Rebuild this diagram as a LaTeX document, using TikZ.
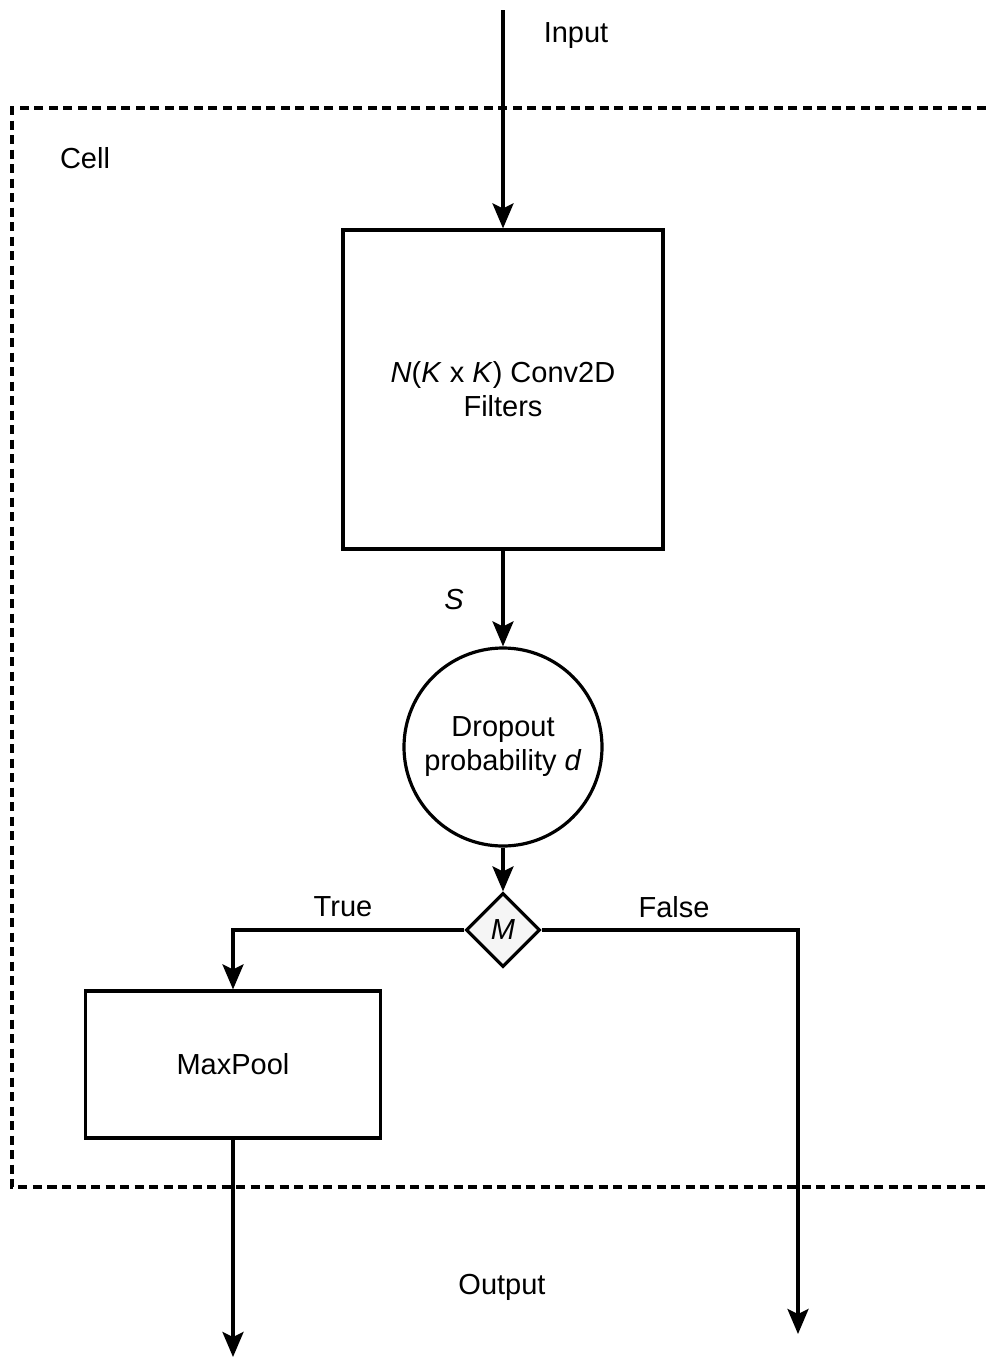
\documentclass[tikz,border=0pt]{standalone}
\usepackage{fontspec}
\setmainfont{Liberation Sans}
\usetikzlibrary{arrows.meta,shapes.geometric}
\begin{document}
\begin{tikzpicture}[x=1pt,y=-1pt,
  every node/.style={font=\fontsize{29}{34}\selectfont},
  conn/.style={line width=3.2pt},
  arr/.style={conn, -{Stealth[length=25pt,width=21pt,inset=5pt]}},
  boxnode/.style={draw, line width=3.2pt, inner sep=0pt, align=center},
  lbl/.style={inner sep=0pt, align=center}
]
\useasboundingbox (0,0) rectangle (987,1357);
% cell border
\draw[conn, dash pattern=on 9pt off 5.5pt] (1000,108) -- (12,108) -- (12,1187) -- (1000,1187);
\node[lbl] (celllbl) at (85,158) {Cell};
% nodes
\coordinate (inp) at (503,10);
\node[lbl] (inlbl) at (576,36) {Input};
\node[boxnode, minimum width=320pt, minimum height=319pt] (conv) at (503,389.5) {\textit{N}(\textit{K} x \textit{K}) Conv2D\\Filters};
\node[boxnode, circle, minimum size=198pt] (drop) at (503,747) {Dropout\\probability \textit{d}};
\node[boxnode, diamond, minimum width=74pt, minimum height=74pt, fill=black!4] (mask) at (503,930) {\textit{M}};
\node[boxnode, minimum width=295pt, minimum height=147pt] (pool) at (233,1064.5) {MaxPool};
\coordinate (outa) at (233,1357);
\coordinate (outb) at (798,1334);
\node[lbl] (slbl) at (454,600) {\textit{S}};
\node[lbl] (truelbl) at (343,907) {True};
\node[lbl] (falselbl) at (674,907) {False};
\node[lbl] (outlbl) at (502,1287) {Output};
% connectors
\draw[arr] (inp) -- (conv.north);
\draw[arr] (conv.south) -- (drop.north);
\draw[arr] (drop.south) -- (mask.north);
\draw[arr] (mask.west) -| (pool.north);
\draw[arr] (mask.east) -| (outb);
\draw[arr] (pool.south) -- (outa);
\end{tikzpicture}
\end{document}
